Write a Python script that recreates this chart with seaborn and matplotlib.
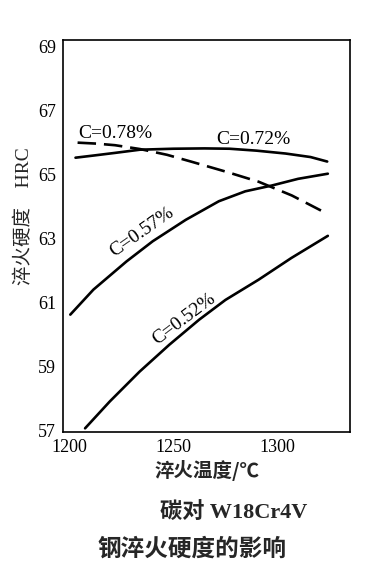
import matplotlib
matplotlib.use('Agg')
import matplotlib.pyplot as plt
import seaborn as sns
import pandas as pd

# 读图得到的数据点 (淬火温度, HRC)
t_072 = [1203, 1212, 1222, 1234, 1250, 1265, 1277, 1290, 1304, 1316, 1324]
h_072 = [65.53, 65.60, 65.68, 65.78, 65.81, 65.82, 65.81, 65.75, 65.66, 65.55, 65.41]

t_078 = [1204, 1213, 1222, 1234, 1247, 1259, 1276, 1291, 1307, 1321]
h_078 = [66.00, 65.97, 65.92, 65.80, 65.62, 65.40, 65.08, 64.78, 64.35, 63.88]

t_057 = [1200.5, 1211.6, 1227.5, 1240.1, 1256.0, 1271.9, 1284.6, 1297.3, 1310.0, 1324.3]
h_057 = [60.63, 61.41, 62.29, 62.92, 63.59, 64.17, 64.48, 64.66, 64.87, 65.03]

t_052 = [1207.6, 1219.5, 1233.8, 1248.1, 1262.4, 1275.1, 1291.0, 1306.8, 1324.3]
h_052 = [57.08, 57.92, 58.85, 59.69, 60.47, 61.09, 61.72, 62.40, 63.09]

sns.set_theme(style='white')
plt.rcParams['font.family'] = ['Liberation Serif', 'Noto Sans CJK SC']
plt.rcParams['axes.unicode_minus'] = False

fig = plt.figure(figsize=(3.89, 5.82), dpi=100)
ax = fig.add_axes([0.162, 0.258, 0.738, 0.673])

for t, h, ls in [(t_072, h_072, '-'), (t_078, h_078, (0, (7, 3))),
                 (t_057, h_057, '-'), (t_052, h_052, '-')]:
    d = pd.DataFrame({'T': t, 'H': h})
    sns.lineplot(data=d, x='T', y='H', ax=ax, color='black', lw=1.9,
                 linestyle=ls)

ax.set_xlim(1197, 1335)
ax.set_ylim(56.97, 69.2)
ax.set_xticks([1200, 1250, 1300])
ax.set_yticks([57, 59, 61, 63, 65, 67, 69])
ax.tick_params(direction='in', length=6, width=1, colors='black',
               labelsize=13, pad=5)
for s in ax.spines.values():
    s.set_color('black')
    s.set_linewidth(1.2)

ax.set_xlabel('淬火温度/℃', fontsize=14, family=['Noto Sans CJK SC'],
              labelpad=3, fontweight='bold')
ax.set_ylabel('淬火硬度    HRC', fontsize=14,
              family=['Liberation Serif', 'Noto Sans CJK SC'])
ax.yaxis.set_label_coords(-0.105, 0.55)

lab = dict(fontsize=14, color='black', ha='center', va='center')
ax.text(1221.9, 66.3, 'C=0.78%', **lab)
ax.text(1288.6, 66.1, 'C=0.72%', **lab)
ax.text(1234.8, 63.2, 'C=0.57%', rotation=35, **lab)
ax.text(1255.2, 60.5, 'C=0.52%', rotation=37, **lab)

fig.text(0.600, 0.120, '碳对 W18Cr4V', fontsize=16, fontweight='bold',
         ha='center', va='center', family=['Liberation Serif', 'Noto Sans CJK SC'])
fig.text(0.494, 0.058, '钢淬火硬度的影响', fontsize=17, fontweight='bold',
         ha='center', va='center', family=['Noto Sans CJK SC'])

fig.savefig('out.png', dpi=100)
